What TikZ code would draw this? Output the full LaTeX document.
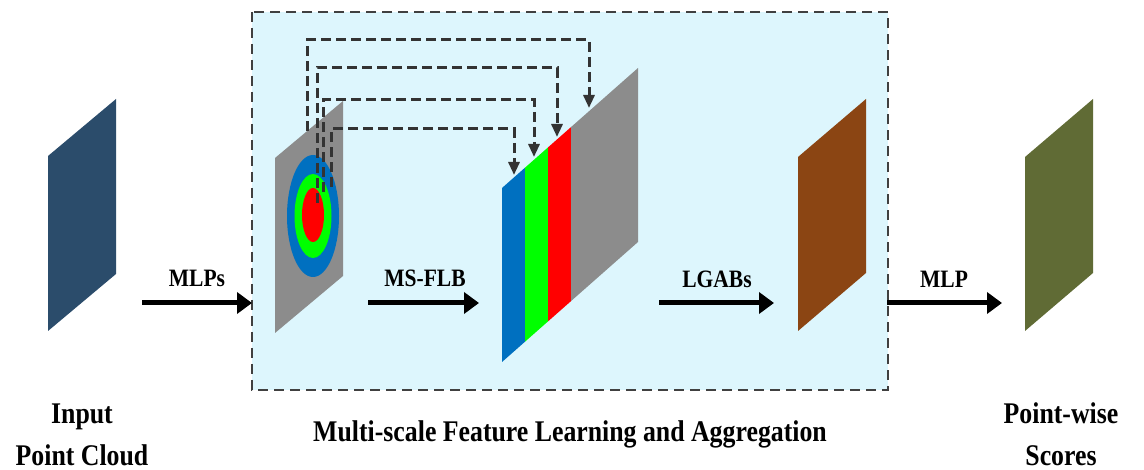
\documentclass[tikz,border=0pt]{standalone}
\usepackage{fontspec}
\usepackage{graphicx}
\usetikzlibrary{arrows.meta}
\setmainfont{Liberation Serif}
% slightly condensed bold serif lettering
\newcommand\cond[1]{\scalebox{0.86}[1]{#1}}

\definecolor{boxfill}{HTML}{DDF6FD}
\definecolor{boxline}{HTML}{404040}
\definecolor{dashgray}{HTML}{333333}
\definecolor{planegray}{HTML}{8C8C8C}
\definecolor{ringblue}{HTML}{0070C0}
\definecolor{ringgreen}{HTML}{00FF00}
\definecolor{ringred}{HTML}{FF0000}
\definecolor{inputblue}{HTML}{2B4C6B}
\definecolor{aggbrown}{HTML}{8B4513}
\definecolor{scoreolive}{HTML}{606B35}

\begin{document}
\begin{tikzpicture}[x=1pt,y=-1pt,
  flow/.style={line width=5pt,-{Triangle[length=15pt,width=21pt]}},
  skip/.style={draw=dashgray,line width=3pt,dash pattern=on 10pt off 5pt,
               -{Triangle[length=13pt,width=11pt]}},
  steplabel/.style={font=\rmfamily\bfseries\fontsize{25}{28}\selectfont,
                    anchor=base,inner sep=0pt},
  caption/.style={font=\rmfamily\bfseries\fontsize{30}{42}\selectfont,
                  align=center,anchor=base,inner sep=0pt}]

\useasboundingbox (0,0) rectangle (1144,470);

% module frame
\draw[fill=boxfill,draw=boxline,line width=2.2pt,dash pattern=on 10pt off 6pt]
  (252,12) rectangle (888,390);

% input point cloud
\fill[inputblue] (48,156) -- (116,99) -- (116,274) -- (48,331) -- cycle;

% feature map with multi-scale neighbourhoods
\fill[planegray] (275,158) -- (343,101) -- (343,276) -- (275,333) -- cycle;
\fill[ringblue]  (313,216) ellipse [x radius=26pt, y radius=61pt];
\fill[ringgreen] (313,216) ellipse [x radius=18.5pt, y radius=42pt];
\fill[ringred]   (313,215) ellipse [x radius=11pt, y radius=27pt];

% concatenated multi-scale features
\fill[ringblue]  (502,188) -- (525,167.7) -- (525,341.7) -- (502,362) -- cycle;
\fill[ringgreen] (525,167.7) -- (548,147.4) -- (548,321.4) -- (525,341.7) -- cycle;
\fill[ringred]   (548,147.4) -- (571,127.1) -- (571,301.1) -- (548,321.4) -- cycle;
\fill[planegray] (571,127.1) -- (638,68) -- (638,242) -- (571,301.1) -- cycle;

% aggregated features and scores
\fill[aggbrown]   (798,157) -- (866,99) -- (866,273) -- (798,331) -- cycle;
\fill[scoreolive] (1025,157) -- (1093,99) -- (1093,273) -- (1025,331) -- cycle;

% skip connections
\coordinate (src1) at (307,131); \coordinate (bend1) at (589,40);  \coordinate (dst1) at (589,108);
\coordinate (src2) at (317,203); \coordinate (bend2) at (557,68);  \coordinate (dst2) at (557,137);
\coordinate (src3) at (323,192); \coordinate (bend3) at (534,100); \coordinate (dst3) at (534,157);
\coordinate (src4) at (331,187); \coordinate (bend4) at (514,129); \coordinate (dst4) at (514,175);
\draw[skip] (src1) |- (bend1) -- (dst1);
\draw[skip] (src2) |- (bend2) -- (dst2);
\draw[skip] (src3) |- (bend3) -- (dst3);
\draw[skip] (src4) |- (bend4) -- (dst4);

% processing steps
\coordinate (a0) at (142,303); \coordinate (a1) at (252,303);
\coordinate (b0) at (368,303); \coordinate (b1) at (479,303);
\coordinate (c0) at (659,303); \coordinate (c1) at (774,303);
\coordinate (d0) at (887,303); \coordinate (d1) at (1002,303);
\draw[flow] (a0) -- (a1);
\draw[flow] (b0) -- (b1);
\draw[flow] (c0) -- (c1);
\draw[flow] (d0) -- (d1);
\node[steplabel] (mlps)  at (197,287) {\cond{MLPs}};
\node[steplabel] (msflb) at (425,287) {\cond{MS-FLB}};
\node[steplabel] (lgabs) at (717,288) {\cond{LGABs}};
\node[steplabel] (mlp)   at (944,288) {\cond{MLP}};

% captions
\node[caption] (incap)  at (82,465)  {\cond{Input}\\\cond{Point Cloud}};
\node[caption] (modcap) at (570,442) {\cond{Multi-scale Feature Learning and Aggregation}};
\node[caption] (outcap) at (1061,465) {\cond{Point-wise}\\\cond{Scores}};
\end{tikzpicture}
\end{document}
